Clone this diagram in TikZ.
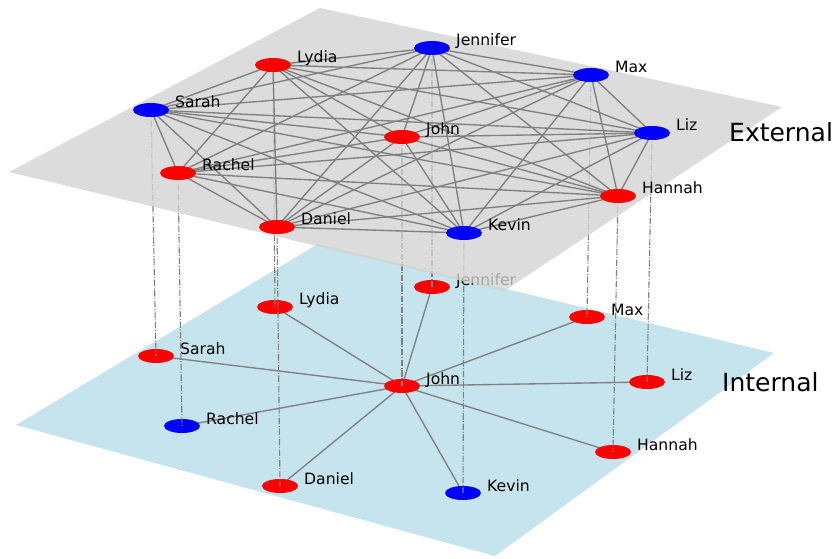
\documentclass[tikz,border=0pt]{standalone}
\usepackage{fontspec}
\setmainfont{DejaVu Sans}
\usetikzlibrary{shapes.geometric}
\definecolor{planegray}{RGB}{211,211,211}
\definecolor{planeblue}{RGB}{173,216,230}
\definecolor{edgegray}{RGB}{128,128,128}
\begin{document}
\begin{tikzpicture}[x=1pt,y=-1pt,
  vnode/.style={ellipse, minimum width=36pt, minimum height=14pt, inner sep=0pt},
  edge/.style={draw=edgegray, line width=1.35pt},
  interlink/.style={draw=edgegray, line width=1.1pt, dash pattern=on 6.4pt off 1.6pt on 1pt off 1.6pt},
  lbl/.style={anchor=base west, inner sep=0pt, font=\fontsize{15.6}{18}\selectfont},
  layerlbl/.style={anchor=west, inner sep=0pt, font=\fontsize{25}{29}\selectfont}]
\useasboundingbox (0,0) rectangle (839,559);

% internal (lower) plane
\fill[planeblue, fill opacity=0.7] (16,425) -- (318,244) -- (774,353) -- (495,556) -- cycle;

% lower-layer positions
\foreach \n/\x/\y in {Sarah/156/356, Lydia/275/307, Jennifer/432/287, Max/587/317, Liz/647/382,
  John/402/386, Rachel/182/426, Hannah/613/452, Daniel/280/486, Kevin/463/493}
  \coordinate (bc-\n) at (\x,\y);

% lower-layer edges (star around John)
\foreach \n in {Sarah, Lydia, Jennifer, Max, Liz, Rachel, Hannah, Daniel, Kevin}
  \draw[edge] (bc-John) -- (bc-\n);

% lower-layer nodes and labels
\foreach \n/\x/\y/\c in {Sarah/156/356/red, Lydia/275/307/red, Jennifer/432/287/red, Max/587/317/red,
  Liz/647/382/red, John/402/386/red, Rachel/182/426/blue, Hannah/613/452/red, Daniel/280/486/red, Kevin/463/493/blue}
{
  \node[vnode, fill=\c] (b-\n) at (bc-\n) {};
  \node[lbl] (bl-\n) at (\x+24,\y-2) {\n};
}

% upper-layer positions
\foreach \n/\x/\y in {Sarah/151/110, Lydia/273/65, Jennifer/432/48, Max/591/75, Liz/652/133,
  John/402/137, Rachel/178/173, Hannah/618/196, Daniel/277/227, Kevin/464/233}
  \coordinate (tc-\n) at (\x,\y);

% inter-layer links
\foreach \n in {Sarah, Lydia, Jennifer, Max, Liz, John, Rachel, Hannah, Daniel, Kevin}
  \draw[interlink] (tc-\n) -- (b-\n.center);

% external (upper) plane
\fill[planegray, fill opacity=0.8] (9,172) -- (320,8) -- (782,107) -- (504,291) -- cycle;

% upper-layer edges (complete graph)
\foreach \a [count=\i] in {Sarah, Lydia, Jennifer, Max, Liz, John, Rachel, Hannah, Daniel, Kevin}{
  \foreach \b [count=\j] in {Sarah, Lydia, Jennifer, Max, Liz, John, Rachel, Hannah, Daniel, Kevin}{
    \ifnum\j>\i \draw[edge] (tc-\a) -- (tc-\b); \fi
  }
}

% upper-layer nodes and labels
\foreach \n/\x/\y/\c in {Sarah/151/110/blue, Lydia/273/65/red, Jennifer/432/48/blue, Max/591/75/blue,
  Liz/652/133/blue, John/402/137/red, Rachel/178/173/red, Hannah/618/196/red, Daniel/277/227/red, Kevin/464/233/blue}
{
  \node[vnode, fill=\c] (t-\n) at (tc-\n) {};
  \node[lbl] (tl-\n) at (\x+24,\y-2) {\n};
}

% layer titles
\node[layerlbl] (ext) at (729,132) {External};
\node[layerlbl] (int) at (722,382) {Internal};
\end{tikzpicture}
\end{document}
